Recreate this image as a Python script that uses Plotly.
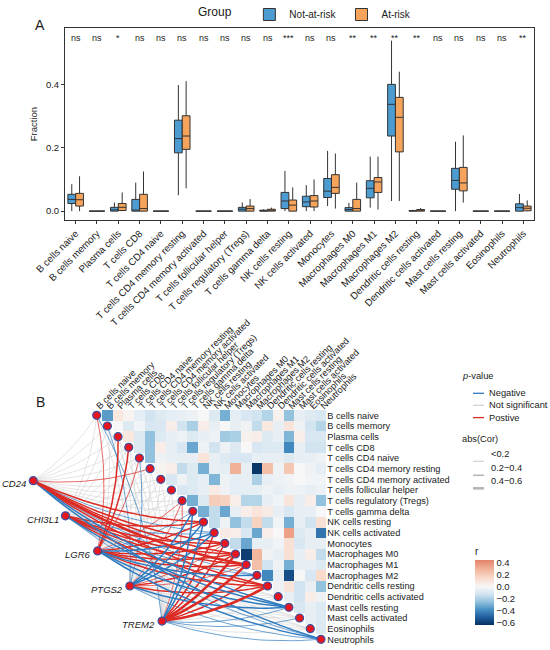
import numpy as np
import plotly.graph_objects as go

# ---- panel A: immune cell fractions ----
cells = ["B cells naive", "B cells memory", "Plasma cells", "T cells CD8", "T cells CD4 naive",
         "T cells CD4 memory resting", "T cells CD4 memory activated", "T cells follicular helper",
         "T cells regulatory (Tregs)", "T cells gamma delta", "NK cells resting", "NK cells activated",
         "Monocytes", "Macrophages M0", "Macrophages M1", "Macrophages M2", "Dendritic cells resting",
         "Dendritic cells activated", "Mast cells resting", "Mast cells activated", "Eosinophils", "Neutrophils"]
sig_labels = ["ns", "ns", "*", "ns", "ns", "ns", "ns", "ns", "ns", "ns", "***", "ns", "ns",
              "**", "**", "**", "**", "ns", "ns", "ns", "ns", "**"]

# Not-at-risk box stats
nr_low = [0.0, 0, 0.0, 0.0, 0, 0.05, 0, 0, 0.0, 0.0, 0.0, 0.0, 0.016, 0.0, 0.011, 0.032, 0.0, 0, 0.0, 0, 0, 0.0]
nr_q1 = [0.024, 0, 0.0, 0.0, 0, 0.184, 0, 0, 0.0, 0.0, 0.008, 0.014, 0.043, 0.0, 0.042, 0.237, 0.0, 0, 0.069, 0, 0, 0.0]
nr_med = [0.037, 0, 0.004, 0.003, 0, 0.229, 0, 0, 0.006, 0.001, 0.032, 0.029, 0.063, 0.005, 0.072, 0.337, 0.001, 0, 0.097, 0, 0, 0.011]
nr_q3 = [0.053, 0, 0.012, 0.037, 0, 0.287, 0, 0, 0.012, 0.003, 0.059, 0.047, 0.103, 0.011, 0.096, 0.400, 0.002, 0, 0.135, 0, 0, 0.023]
nr_high = [0.085, 0, 0.027, 0.09, 0, 0.398, 0, 0, 0.027, 0.006, 0.127, 0.082, 0.19, 0.026, 0.172, 0.538, 0.004, 0, 0.219, 0, 0, 0.054]

# At-risk box stats
ar_low = [0.0, 0, 0.0, 0.0, 0, 0.072, 0, 0, 0.0, 0.0, 0.0, 0.0, 0.008, 0.0, 0.005, 0.032, 0.0, 0, 0.027, 0, 0, 0.0]
ar_q1 = [0.016, 0, 0.002, 0.0, 0, 0.195, 0, 0, 0.0, 0.0, 0.0, 0.013, 0.056, 0.0, 0.059, 0.187, 0.0, 0, 0.064, 0, 0, 0.001]
ar_med = [0.036, 0, 0.012, 0.008, 0, 0.237, 0, 0, 0.008, 0.003, 0.019, 0.032, 0.075, 0.008, 0.092, 0.296, 0.003, 0, 0.089, 0, 0, 0.009]
ar_q3 = [0.056, 0, 0.024, 0.053, 0, 0.301, 0, 0, 0.016, 0.006, 0.035, 0.049, 0.115, 0.037, 0.106, 0.359, 0.005, 0, 0.138, 0, 0, 0.016]
ar_high = [0.11, 0, 0.059, 0.125, 0, 0.41, 0, 0, 0.038, 0.011, 0.075, 0.1, 0.182, 0.09, 0.172, 0.44, 0.01, 0, 0.239, 0, 0, 0.034]

# ---- panel B: cell-cell correlation (upper triangle, row i holds columns i+1..21) ----
r_rows = [
    [-0.35, 0.08, 0.02, -0.06, -0.12, -0.08, -0.06, -0.05, -0.04, 0.0, -0.08, -0.3, -0.06, -0.1, -0.12, -0.18, 0.03, -0.25, -0.05, -0.08, -0.1],
    [0.0, -0.08, -0.02, -0.1, -0.1, 0.05, -0.12, -0.2, 0.05, -0.05, 0.0, -0.05, -0.03, -0.15, 0.08, -0.05, 0.1, -0.03, -0.12, -0.18],
    [0.08, -0.08, -0.25, -0.08, -0.05, -0.03, -0.08, -0.05, -0.03, -0.22, -0.2, 0.03, 0.05, -0.08, -0.05, -0.28, 0.05, -0.1, -0.1],
    [-0.08, -0.25, 0.05, -0.06, -0.1, -0.32, -0.03, -0.12, -0.03, -0.08, 0.0, -0.1, -0.08, -0.08, -0.4, -0.05, -0.12, -0.12],
    [-0.25, -0.03, -0.05, -0.05, -0.05, 0.1, -0.05, -0.08, -0.1, -0.1, -0.05, -0.05, -0.05, -0.08, -0.05, -0.05, -0.03],
    [0.02, 0.05, -0.15, -0.08, -0.3, -0.05, -0.06, 0.3, -0.05, -0.62, 0.25, -0.03, 0.22, 0.0, -0.03, -0.06],
    [-0.1, -0.03, -0.08, -0.06, -0.28, -0.03, -0.06, -0.05, -0.2, -0.05, -0.03, -0.02, 0.0, -0.02, -0.02],
    [-0.1, -0.08, -0.05, 0.06, -0.03, -0.06, -0.06, -0.05, -0.03, -0.05, -0.03, -0.03, -0.05, -0.04],
    [-0.3, -0.08, 0.2, 0.18, 0.05, -0.18, -0.18, -0.05, -0.02, 0.1, -0.05, 0.05, -0.25],
    [-0.3, -0.15, -0.32, -0.05, 0.05, 0.1, 0.06, -0.05, -0.1, -0.05, -0.05, 0.0],
    [-0.15, -0.03, -0.25, -0.15, 0.18, -0.15, -0.02, -0.3, -0.05, -0.12, 0.12],
    [0.06, 0.05, -0.1, -0.32, 0.05, 0.0, 0.35, -0.08, -0.05, -0.45],
    [-0.15, -0.32, -0.05, -0.05, -0.02, 0.12, -0.1, -0.05, -0.05],
    [-0.6, 0.28, -0.03, -0.05, 0.12, -0.05, 0.05, -0.15],
    [0.25, -0.12, -0.03, -0.3, -0.05, -0.05, -0.08],
    [-0.4, -0.05, -0.55, 0.0, -0.1, 0.15],
    [-0.03, 0.1, -0.12, -0.05, -0.25],
    [-0.05, -0.12, 0.05, -0.03],
    [-0.1, -0.05, -0.08],
    [-0.05, -0.08],
    [-0.08],
    [],
]

# gene -> cell correlations and significance (1 = p < 0.05)
genes = ["CD24", "CHI3L1", "LGR6", "PTGS2", "TREM2"]
cd24_r = [0.05, 0.08, -0.06, 0.10, 0.04, 0.15, 0.06, -0.05, 0.08, 0.10, 0.30, -0.15, 0.30, 0.35, 0.42, -0.18, 0.30, 0.05, -0.25, 0.04, -0.06, -0.28]
cd24_sig = [0, 0, 0, 0, 0, 1, 0, 0, 0, 0, 1, 1, 1, 1, 1, 1, 1, 0, 1, 0, 0, 1]
chi3l1_r = [0.04, 0.06, 0.05, -0.04, 0.03, 0.08, 0.05, 0.06, 0.10, -0.08, 0.25, -0.15, 0.28, 0.30, 0.30, -0.15, 0.32, 0.04, -0.25, 0.05, -0.06, -0.15]
chi3l1_sig = [0, 0, 0, 0, 0, 0, 0, 0, 0, 0, 1, 1, 1, 1, 1, 1, 1, 0, 1, 0, 0, 1]
lgr6_r = [0.18, 0.06, 0.30, 0.28, 0.15, 0.10, 0.05, 0.08, 0.18, -0.15, 0.30, -0.25, 0.28, 0.30, 0.30, -0.25, 0.35, 0.06, -0.28, 0.05, -0.08, -0.30]
lgr6_sig = [1, 0, 1, 1, 1, 0, 0, 0, 1, 1, 1, 1, 1, 1, 1, 1, 1, 0, 1, 0, 0, 1]
ptgs2_r = [0.06, -0.15, 0.05, 0.08, -0.15, 0.10, -0.06, 0.05, 0.15, -0.25, -0.25, -0.25, 0.15, 0.25, 0.15, -0.10, 0.30, 0.04, -0.25, 0.06, -0.05, -0.15]
ptgs2_sig = [0, 1, 0, 0, 1, 0, 0, 0, 1, 1, 1, 1, 1, 1, 1, 0, 1, 0, 1, 0, 0, 1]
trem2_r = [-0.15, 0.05, 0.06, 0.08, 0.04, 0.10, 0.05, 0.07, 0.15, -0.25, -0.25, 0.28, 0.30, 0.42, 0.45, 0.30, 0.42, 0.05, -0.15, -0.15, -0.06, -0.18]
trem2_sig = [1, 0, 0, 0, 0, 0, 0, 0, 1, 1, 1, 1, 1, 1, 1, 1, 1, 0, 1, 1, 0, 1]

gene_r = [cd24_r, chi3l1_r, lgr6_r, ptgs2_r, trem2_r]
gene_sig = [cd24_sig, chi3l1_sig, lgr6_sig, ptgs2_sig, trem2_sig]

FONT = "Liberation Sans, Arial, sans-serif"
BLUE_BOX = "#4C9BD1"
ORANGE_BOX = "#F6A35B"
RED_LINK = "#DB2B24"
BLUE_LINK = "#2F7BBF"
GREY_LINK = "#D2D2D2"

n = len(cells)
fig = go.Figure()

# boxplots
fig.add_trace(go.Box(x=cells, q1=nr_q1, median=nr_med, q3=nr_q3, lowerfence=nr_low, upperfence=nr_high,
                     name="Not-at-risk", fillcolor=BLUE_BOX, line=dict(color="#333333", width=1),
                     whiskerwidth=0, offsetgroup="a", boxpoints=False, hoverinfo="skip"))
fig.add_trace(go.Box(x=cells, q1=ar_q1, median=ar_med, q3=ar_q3, lowerfence=ar_low, upperfence=ar_high,
                     name="At-risk", fillcolor=ORANGE_BOX, line=dict(color="#333333", width=1),
                     whiskerwidth=0, offsetgroup="b", boxpoints=False, hoverinfo="skip"))

# heatmap
z = [[None] * n for _ in range(n)]
for i, row in enumerate(r_rows):
    for k, v in enumerate(row):
        z[i][i + 1 + k] = v

zmin, zmax = -0.636, 0.447
def pos(v):
    return (v - zmin) / (zmax - zmin)
cscale = [[pos(-0.636), "#053061"], [pos(-0.5), "#22609F"], [pos(-0.38), "#4690C4"],
          [pos(-0.25), "#92C2DE"], [pos(-0.12), "#D2E4F0"], [pos(0.0), "#F7F7F7"],
          [pos(0.15), "#F9DACB"], [pos(0.3), "#F1B197"], [pos(0.447), "#E3836A"]]

fig.add_trace(go.Heatmap(z=z, x=list(range(n)), y=list(range(n)), colorscale=cscale, zmin=zmin, zmax=zmax,
                         xaxis="x2", yaxis="y2", hoverinfo="skip", showscale=True,
                         colorbar=dict(title=dict(text="r", side="top", font=dict(size=10)),
                                       x=465 / 550, xanchor="left", y=(650 - 584.5) / 650, yanchor="middle",
                                       len=101 / 650, thickness=19, outlinewidth=0,
                                       tickvals=[-0.6, -0.4, -0.2, 0, 0.2, 0.4],
                                       ticktext=["\u22120.6", "\u22120.4", "\u22120.2", "0.0", "0.2", "0.4"],
                                       tickfont=dict(size=9.5), ticks="")))

# gene node layout (placed along a diagonal to the left of the heatmap)
gx = [-5.94 + 3.015 * k for k in range(len(genes))]
gy = [6.13 + 3.29 * k for k in range(len(genes))]

def width_of(r):
    a = abs(r)
    if a < 0.2:
        return 0.7
    if a < 0.4:
        return 1.5
    return 2.6

groups = {}
for g in range(len(genes)):
    for c in range(n):
        r = gene_r[g][c]
        if gene_sig[g][c]:
            col = RED_LINK if r > 0 else BLUE_LINK
        else:
            col = GREY_LINK
        w = width_of(r) if col != GREY_LINK else 0.6
        x0, y0, x1, y1 = gx[g], gy[g], c, c
        dx, dy = x1 - x0, y1 - y0
        cx = (x0 + x1) / 2 - 0.1 * dy
        cy = (y0 + y1) / 2 + 0.1 * dx
        t = np.linspace(0, 1, 24)
        bx = (1 - t) ** 2 * x0 + 2 * (1 - t) * t * cx + t ** 2 * x1
        by = (1 - t) ** 2 * y0 + 2 * (1 - t) * t * cy + t ** 2 * y1
        key = (col, w)
        xs, ys = groups.setdefault(key, ([], []))
        xs.extend(list(bx) + [None])
        ys.extend(list(by) + [None])

order = sorted(groups.keys(), key=lambda k: (k[0] != GREY_LINK, k[1]))
for key in order:
    xs, ys = groups[key]
    fig.add_trace(go.Scatter(x=xs, y=ys, mode="lines", line=dict(color=key[0], width=key[1]),
                             xaxis="x2", yaxis="y2", hoverinfo="skip", showlegend=False))

# nodes
fig.add_trace(go.Scatter(x=list(range(n)) + gx, y=list(range(n)) + gy, mode="markers",
                         marker=dict(size=8, color="#E8171F", line=dict(color="#3D51A0", width=1.2)),
                         xaxis="x2", yaxis="y2", hoverinfo="skip", showlegend=False))

annotations = []
for c, s in zip(cells, sig_labels):
    annotations.append(dict(x=c, y=0.547, xref="x", yref="y", text=s, showarrow=False,
                            font=dict(size=9, color="#222222")))
for g, name in enumerate(genes):
    annotations.append(dict(x=gx[g] - 0.45, y=gy[g] + 0.3, xref="x2", yref="y2", text="<i>" + name + "</i>",
                            showarrow=False, xanchor="right", yanchor="middle", font=dict(size=9.5)))
annotations.append(dict(x=33 / 550, y=(650 - 15) / 650, xref="paper", yref="paper", text="A",
                        showarrow=False, font=dict(size=14)))
annotations.append(dict(x=34 / 550, y=(650 - 402) / 650, xref="paper", yref="paper", text="B",
                        showarrow=False, font=dict(size=14)))

# manual legends for link colour and width
def py(v):
    return (650 - v) / 650

shapes = []
annotations.append(dict(x=460 / 550, y=py(376), xref="paper", yref="paper", text="<i>p</i>-value",
                        showarrow=False, xanchor="left", font=dict(size=9.3)))
for yy, col, lab in [(393.3, BLUE_LINK, "Negative"), (405.3, GREY_LINK, "Not significant"), (417.6, RED_LINK, "Postive")]:
    shapes.append(dict(type="line", xref="paper", yref="paper", x0=473 / 550, x1=484 / 550, y0=py(yy), y1=py(yy),
                       line=dict(color=col, width=1.3)))
    annotations.append(dict(x=487 / 550, y=py(yy), xref="paper", yref="paper", text=lab, showarrow=False,
                            xanchor="left", font=dict(size=9.3)))
annotations.append(dict(x=460 / 550, y=py(446), xref="paper", yref="paper", text="abs(Cor)",
                        showarrow=False, xanchor="left", font=dict(size=9.3)))
for yy, w, lab in [(461.3, 0.7, "<0.2"), (475.3, 1.5, "0.2\u22120.4"), (488.3, 2.6, "0.4\u22120.6")]:
    shapes.append(dict(type="line", xref="paper", yref="paper", x0=473 / 550, x1=484 / 550, y0=py(yy), y1=py(yy),
                       line=dict(color="#B5B5B5", width=w)))
    annotations.append(dict(x=489 / 550, y=py(yy), xref="paper", yref="paper", text=lab, showarrow=False,
                            xanchor="left", font=dict(size=9.3)))

fig.update_layout(
    template="none",
    width=550, height=650, margin=dict(l=0, r=0, t=0, b=0, autoexpand=False),
    paper_bgcolor="white", plot_bgcolor="white",
    font=dict(family=FONT, size=10, color="#1A1A1A"),
    boxmode="group", boxgap=0.27, boxgroupgap=0,
    legend=dict(title=dict(text="Group   ", side="left"), orientation="h", x=196 / 550, xanchor="left",
                y=1.0, yanchor="top", font=dict(size=10), itemwidth=30, bgcolor="rgba(0,0,0,0)"),
    xaxis=dict(domain=[65 / 550, 534 / 550], showline=True, mirror=True, linecolor="#333333", linewidth=1,
               ticks="outside", ticklen=3, tickcolor="#333333", tickangle=-45, tickfont=dict(size=9.8),
               showgrid=False, zeroline=False, anchor="y", automargin=False),
    yaxis=dict(domain=[(650 - 220) / 650, (650 - 28.3) / 650], range=[-0.028, 0.577],
               showline=True, mirror=True, linecolor="#333333", linewidth=1, ticks="outside", ticklen=3,
               tickcolor="#333333", tickvals=[0, 0.2, 0.4], ticktext=["0.0", "0.2", "0.4"],
               tickfont=dict(size=9.5), title=dict(text="Fraction", font=dict(size=9.5), standoff=6),
               showgrid=False, zeroline=False, anchor="x", automargin=False),
    xaxis2=dict(domain=[0, 326.3 / 550], range=[-9.054, 21.5], side="top", tickmode="array",
                tickvals=list(range(n)), ticktext=cells, tickangle=-45, tickfont=dict(size=9.2),
                ticklabelstandoff=-4,
                showgrid=False, zeroline=False, showline=False, ticks="", anchor="y2", automargin=False),
    yaxis2=dict(domain=[0, (650 - 410) / 650], range=[22.0, -0.5], side="right", tickmode="array",
                tickvals=list(range(n)), ticktext=cells, tickfont=dict(size=9.2),
                showgrid=False, zeroline=False, showline=False, ticks="", anchor="x2", automargin=False),
    annotations=annotations, shapes=shapes,
)

# the page's default body margin would push the fixed-size figure off the window
fig.write_html("out.html", config={"displayModeBar": False},
               post_script="document.body.style.margin='0';document.body.style.overflow='hidden';")
